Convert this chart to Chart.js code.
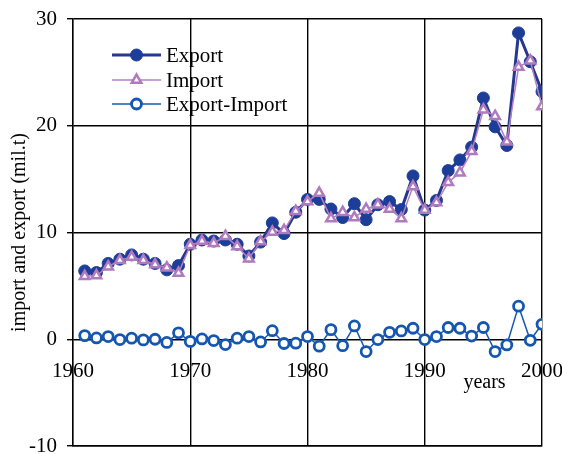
<!DOCTYPE html>
<html>
<head>
<meta charset="utf-8">
<script src="https://cdn.jsdelivr.net/npm/chart.js@4/dist/chart.umd.min.js"></script>
<style>
  html, body { margin: 0; padding: 0; background: #fff; }
  #wrap { width: 562px; height: 454px; }
</style>
</head>
<body>
<div id="wrap"><canvas id="trade"></canvas></div>
<script>
const YEARS = [1961, 1962, 1963, 1964, 1965, 1966, 1967, 1968, 1969, 1970,
  1971, 1972, 1973, 1974, 1975, 1976, 1977, 1978, 1979, 1980,
  1981, 1982, 1983, 1984, 1985, 1986, 1987, 1988, 1989, 1990,
  1991, 1992, 1993, 1994, 1995, 1996, 1997, 1998, 1999, 2000];

const EXPORT = [6.4, 6.25, 7.1, 7.5, 7.9, 7.5, 7.1, 6.5, 6.9, 8.9,
  9.3, 9.2, 9.3, 8.9, 7.8, 9.1, 10.9, 9.9, 11.9, 13.1,
  13.1, 12.2, 11.4, 12.7, 11.2, 12.6, 12.9, 12.15, 15.3, 12.1,
  13.0, 15.8, 16.8, 18.0, 22.6, 19.9, 18.15, 28.7, 26.0, 23.2];

const IMPORT = [5.9, 5.97, 6.8, 7.4, 7.7, 7.4, 7.0, 6.7, 6.2, 8.8,
  9.2, 9.0, 9.65, 8.7, 7.55, 9.15, 10.05, 10.2, 12.0, 12.9,
  13.7, 11.3, 11.9, 11.4, 12.2, 12.6, 12.2, 11.3, 14.3, 12.1,
  12.8, 14.7, 15.6, 17.6, 21.5, 20.9, 18.5, 25.5, 26.1, 21.8];

const DIFF = [0.34, 0.12, 0.25, -0.03, 0.1, -0.06, 0.0, -0.3, 0.6, -0.2,
  0.03, -0.12, -0.5, 0.1, 0.25, -0.25, 0.8, -0.4, -0.37, 0.25,
  -0.65, 0.9, -0.6, 1.25, -1.15, -0.03, 0.65, 0.78, 1.03, -0.03,
  0.25, 1.1, 1.03, 0.3, 1.1, -1.15, -0.53, 3.1, -0.1, 1.4];

const X_TICKS = [1960, 1970, 1980, 1990, 2000];
const SERIES_NAMES = ["Export", "Import", "Export-Import"];

const FONT = "'Liberation Serif', 'Times New Roman', serif";

function toPoints(values) {
  return values.map((v, i) => ({ x: YEARS[i], y: v }));
}

// x tick labels sit under the zero line, plus the "years" caption and legend
const overlay = {
  id: "overlay",
  afterDraw(chart) {
    const ctx = chart.ctx;
    const xs = chart.scales.x;
    const ys = chart.scales.y;
    const zero = ys.getPixelForValue(0);

    ctx.save();
    ctx.fillStyle = "#000";
    ctx.font = "21px " + FONT;
    ctx.textAlign = "center";
    ctx.textBaseline = "middle";
    X_TICKS.forEach((t) => {
      ctx.fillText(String(t), xs.getPixelForValue(t), zero + 32);
    });

    ctx.font = "20px " + FONT;
    ctx.fillText("years", xs.getPixelForValue(1995.1), ys.getPixelForValue(-4.1));

    // legend: line with marker, like the original
    const rows = [55, 80, 104];
    ctx.font = "21px " + FONT;
    ctx.textAlign = "left";
    chart.data.datasets.forEach((ds, i) => {
      const y = rows[i];
      ctx.strokeStyle = ds.borderColor;
      ctx.lineWidth = ds.borderWidth;
      ctx.beginPath();
      ctx.moveTo(112, y);
      ctx.lineTo(161, y);
      ctx.stroke();
      ctx.fillStyle = ds.pointBackgroundColor;
      ctx.strokeStyle = ds.pointBorderColor;
      ctx.lineWidth = ds.pointBorderWidth;
      Chart.helpers.drawPoint(ctx, {
        pointStyle: ds.pointStyle,
        radius: ds.pointRadius,
        rotation: 0,
        borderWidth: ds.pointBorderWidth,
      }, 136.5, y);
      ctx.fillStyle = "#000";
      ctx.fillText(SERIES_NAMES[i], 166, y + 1);
    });
    ctx.restore();
  },
};

new Chart(document.getElementById("trade"), {
  type: "line",
  data: {
    datasets: [
      {
        label: SERIES_NAMES[0],
        data: toPoints(EXPORT),
        borderColor: "#25388e",
        borderWidth: 3,
        pointStyle: "circle",
        pointRadius: 6,
        pointBackgroundColor: "#1c3d98",
        pointBorderColor: "#1c3d98",
        pointBorderWidth: 1,
        tension: 0,
        order: 1,
      },
      {
        label: SERIES_NAMES[1],
        data: toPoints(IMPORT),
        borderColor: "#b57fc2",
        borderWidth: 1.5,
        pointStyle: "triangle",
        pointRadius: 5.5,
        pointBackgroundColor: "#ffffff",
        pointBorderColor: "#b07abf",
        pointBorderWidth: 2.5,
        tension: 0,
        order: 0,
      },
      {
        label: SERIES_NAMES[2],
        data: toPoints(DIFF),
        borderColor: "#1658b0",
        borderWidth: 1.5,
        pointStyle: "circle",
        pointRadius: 5,
        pointBackgroundColor: "#ffffff",
        pointBorderColor: "#1456b0",
        pointBorderWidth: 2.8,
        tension: 0,
        order: 2,
      },
    ],
  },
  options: {
    responsive: true,
    maintainAspectRatio: false,
    animation: false,
    layout: { padding: { left: 0, right: 20, top: 19, bottom: 8 } },
    plugins: {
      legend: { display: false },
      tooltip: { enabled: false },
    },
    scales: {
      x: {
        type: "linear",
        min: 1960,
        max: 2000,
        ticks: { stepSize: 10, display: false },
        grid: { color: "#000", lineWidth: 1.4, drawTicks: false },
        border: { color: "#000", width: 1.4 },
        afterFit(scale) { scale.height = 0; },
      },
      y: {
        min: -10,
        max: 30,
        ticks: {
          stepSize: 10,
          color: "#000",
          padding: 10,
          font: { family: FONT, size: 21 },
        },
        grid: { color: "#000", lineWidth: 1.4, tickLength: 6 },
        border: { color: "#000", width: 1.4 },
        title: {
          display: true,
          text: "import and export (mil.t)",
          color: "#000",
          font: { family: FONT, size: 20 },
          padding: { top: 8, bottom: 0 },
        },
        afterFit(scale) {
          scale.width = 73;
          scale.paddingTop = 0;
          scale.paddingBottom = 0;
        },
      },
    },
  },
  plugins: [overlay],
});
</script>
</body>
</html>
